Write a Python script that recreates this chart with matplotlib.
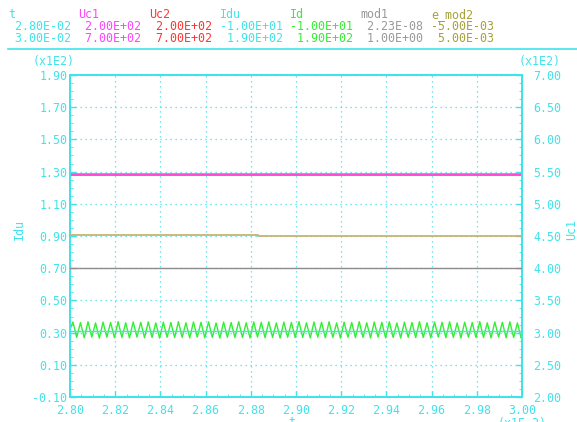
import numpy as np
import matplotlib
matplotlib.use("Agg")
import matplotlib.pyplot as plt
from matplotlib.lines import Line2D
from matplotlib.ticker import AutoMinorLocator

# ---------------- data ----------------
sig_names = ["t", "Uc1", "Uc2", "Idu", "Id", "mod1", "e_mod2"]
sig_min = ["2.80E-02", "2.00E+02", "2.00E+02", "-1.00E+01", "-1.00E+01", "2.23E-08", "-5.00E-03"]
sig_max = ["3.00E-02", "7.00E+02", "7.00E+02", "1.90E+02", "1.90E+02", "1.00E+00", "5.00E-03"]
sig_colors = ["#3fe3ec", "#ff44ff", "#ff3333", "#3fe3ec", "#33ee33", "#999999", "#a8a038"]

# time in units of 1E-2 s
t_flat = [2.80, 3.00]
uc1_vals = [546.0, 546.0]
uc2_vals = [544.5, 544.5]
idu_vals = [31.0, 31.0]
mod1_vals = [0.40, 0.40]
t_emod2 = [2.80, 2.883, 2.883, 3.00]
emod2_vals = [0.00004, 0.00004, 0.0, 0.0]

# Id: triangular ripple, vertex values
id_start_t = 2.80
id_first_vertex_t = 2.8013
id_half_period = 0.0016667
id_start_val = 32.0
id_vertex_vals = [
    36.6, 27.0, 36.2, 26.8, 36.7, 27.2, 36.0, 26.6, 36.5, 27.1,
    36.3, 26.9, 36.8, 27.0, 36.1, 26.7, 36.6, 27.2, 36.4, 26.8,
    36.7, 27.0, 36.0, 26.6, 36.5, 27.1, 36.3, 26.9, 36.8, 27.0,
    36.1, 26.7, 36.6, 27.2, 36.4, 26.8, 36.7, 27.0, 36.0, 26.6,
    36.5, 27.1, 36.3, 26.9, 36.8, 27.0, 36.1, 26.7, 36.6, 27.2,
    36.4, 26.8, 36.7, 27.0, 36.0, 26.6, 36.5, 27.1, 36.3, 26.9,
    36.8, 27.0, 36.1, 26.7, 36.6, 27.2, 36.4, 26.8, 36.7, 27.0,
    36.0, 26.6, 36.5, 27.1, 36.3, 26.9, 36.8, 27.0, 36.1, 26.7,
    36.6, 27.2, 36.4, 26.8, 36.7, 27.0, 36.0, 26.6, 36.5, 27.1,
    36.3, 26.9, 36.8, 27.0, 36.1, 26.7, 36.6, 27.2, 36.4, 26.8,
    36.7, 27.0, 36.0, 26.6, 36.5, 27.1, 36.3, 26.9, 36.8, 27.0,
    36.1, 26.7, 36.6, 27.2, 36.4, 26.8, 36.7, 27.0, 36.0, 26.6,
]
id_end_t = 3.00
id_end_val = 27.6

xticks = [2.80, 2.82, 2.84, 2.86, 2.88, 2.90, 2.92, 2.94, 2.96, 2.98, 3.00]
left_ticks = [-0.10, 0.10, 0.30, 0.50, 0.70, 0.90, 1.10, 1.30, 1.50, 1.70, 1.90]
right_ticks = [2.00, 2.50, 3.00, 3.50, 4.00, 4.50, 5.00, 5.50, 6.00, 6.50, 7.00]

# ---------------- figure ----------------
W, H = 577, 422
fig = plt.figure(figsize=(W / 100, H / 100), dpi=100)
fig.patch.set_facecolor("white")
FONT = "DejaVu Sans Mono"
FS = 8.4
CYAN = "#3fe3ec"

def px(x, y):
    return x / W, 1 - y / H

# header
col_x = [8, 78.5, 149, 219.5, 290, 360.5, 431]
for i, name in enumerate(sig_names):
    c = sig_colors[i]
    fig.text(*px(col_x[i], 15), name, color=c, fontsize=FS, family=FONT, va="center", ha="left")
    for y, s in ((27, sig_min[i]), (38.5, sig_max[i])):
        s2 = s if s.startswith("-") else " " + s
        fig.text(*px(col_x[i], y), s2, color=c, fontsize=FS, family=FONT, va="center", ha="left")
fig.add_artist(Line2D([8 / W, 1.0], [1 - 49.3 / H] * 2, color=CYAN, lw=1.2,
                      transform=fig.transFigure))

L, R, T, B = 70, 522, 75, 397
ax = fig.add_axes([L / W, 1 - B / H, (R - L) / W, (B - T) / H])
ax.set_facecolor("none")
axr = ax.twinx()
ax_mod = ax.twinx()
ax_emod = ax.twinx()

t_id = [id_start_t] + list(id_first_vertex_t + id_half_period * np.arange(len(id_vertex_vals))) + [id_end_t]
v_id = [id_start_val] + id_vertex_vals + [id_end_val]

ax.set_xlim(2.80, 3.00)
ax.set_ylim(-10, 190)
axr.set_ylim(200, 700)
ax_mod.set_ylim(float(sig_min[5]), float(sig_max[5]))
ax_emod.set_ylim(float(sig_min[6]), float(sig_max[6]))

ax.plot(t_id, v_id, color="#33ee33", lw=1.0, zorder=3)
ax.plot(t_flat, idu_vals, color="#3fe3ec", lw=1.0, zorder=4)
axr.plot(t_flat, uc2_vals, color="#ff3355", lw=1.1)
axr.plot(t_flat, uc1_vals, color="#ff44ee", lw=1.1)
ax_mod.plot(t_flat, mod1_vals, color="#8c8c8c", lw=1.0)
ax_emod.plot(t_emod2, emod2_vals, color="#c4b474", lw=1.3)

for a in (ax_mod, ax_emod):
    a.axis("off")

ax.set_xticks(xticks)
ax.set_xticklabels([f"{v:.2f}" for v in xticks])
ax.set_yticks([v * 100 for v in left_ticks])
ax.set_yticklabels([f"{v:.2f}" if v >= 0 else f"-{abs(v):.2f}" for v in left_ticks])
axr.set_yticks([v * 100 for v in right_ticks])
axr.set_yticklabels([f"{v:.2f}" for v in right_ticks])

ax.grid(True, color=CYAN, linestyle=(0, (1, 3)), lw=0.9)
for a in (ax, axr):
    for s in a.spines.values():
        s.set_color(CYAN)
        s.set_linewidth(1.4)
ax.tick_params(axis="both", direction="in", length=4, width=1, color=CYAN,
               labelcolor=CYAN, labelsize=FS)
ax.tick_params(axis="y", pad=2, labelfontfamily=FONT)
ax.tick_params(axis="x", pad=5, labelfontfamily=FONT, top=False)
axr.tick_params(axis="y", direction="in", length=4, width=1, color=CYAN,
                labelcolor=CYAN, labelsize=FS, pad=8, labelfontfamily=FONT)
ax.xaxis.set_minor_locator(AutoMinorLocator(4))
ax.yaxis.set_minor_locator(AutoMinorLocator(4))
axr.yaxis.set_minor_locator(AutoMinorLocator(4))
ax.tick_params(which="minor", direction="in", length=2, color=CYAN)
axr.tick_params(which="minor", direction="in", length=2, color=CYAN)

# axis annotations
fig.text(*px(33, 62), "(x1E2)", color=CYAN, fontsize=FS, family=FONT, va="center", ha="left")
fig.text(*px(519, 62), "(x1E2)", color=CYAN, fontsize=FS, family=FONT, va="center", ha="left")
fig.text(*px(19, 229), "Idu", color=CYAN, fontsize=FS, family=FONT, va="center", ha="center", rotation=90)
fig.text(*px(572, 230), "Uc1", color=CYAN, fontsize=FS, family=FONT, va="center", ha="center", rotation=90)
fig.text(*px(292, 416.5), "t", color=CYAN, fontsize=FS, family=FONT, va="top", ha="center")
fig.text(*px(498, 416.5), "(x1E-2)", color=CYAN, fontsize=FS, family=FONT, va="top", ha="left")

fig.savefig("out.png", dpi=100, facecolor="white")
